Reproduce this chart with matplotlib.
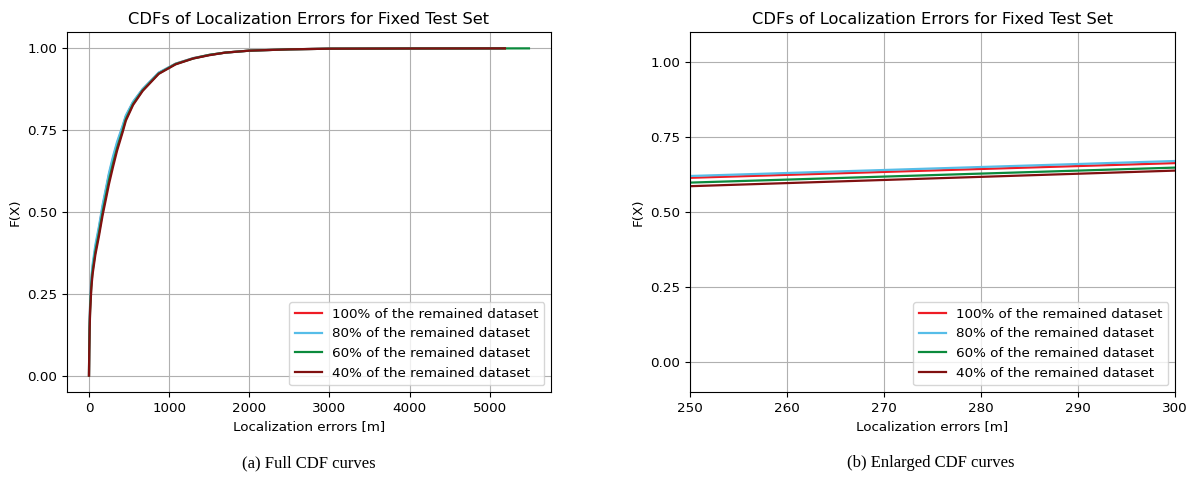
import matplotlib
matplotlib.use("Agg")
import matplotlib.pyplot as plt

# labels and colours of the four curves
labels = ['100% of the remained dataset', '80% of the remained dataset',
          '60% of the remained dataset', '40% of the remained dataset']
colors = ['#ee1c25', '#56bde8', '#0b8a3c', '#801010']

x_100 = [0, 3, 8, 15, 30, 45, 80, 125, 170, 250, 300, 350, 420, 460, 550, 670, 870, 1080, 1300, 1500, 1700, 2000, 2500, 3000, 4000, 5190]
F_100 = [0, 0.08, 0.16, 0.22, 0.29, 0.33, 0.39, 0.45, 0.515, 0.614, 0.663, 0.708, 0.76, 0.792, 0.835, 0.875, 0.925, 0.953, 0.970, 0.980, 0.987, 0.993, 0.997, 0.999, 0.9996, 1.0]

x_80 = [0, 3, 8, 15, 30, 45, 80, 125, 170, 250, 300, 350, 420, 460, 550, 670, 870, 1080, 1300, 1500, 1700, 2000, 2500, 3000, 4000, 5150]
F_80 = [0, 0.09, 0.17, 0.23, 0.30, 0.34, 0.40, 0.457, 0.522, 0.620, 0.670, 0.714, 0.764, 0.795, 0.837, 0.876, 0.926, 0.953, 0.970, 0.980, 0.987, 0.993, 0.997, 0.999, 0.9996, 1.0]

x_60 = [0, 3, 8, 15, 30, 45, 80, 125, 170, 250, 300, 350, 420, 460, 550, 670, 870, 1080, 1300, 1500, 1700, 2000, 2500, 3000, 4000, 5490]
F_60 = [0, 0.08, 0.15, 0.21, 0.28, 0.32, 0.38, 0.437, 0.500, 0.598, 0.648, 0.695, 0.750, 0.784, 0.830, 0.872, 0.923, 0.952, 0.969, 0.980, 0.987, 0.993, 0.997, 0.999, 0.9996, 1.0]

x_40 = [0, 3, 8, 15, 30, 45, 80, 125, 170, 250, 300, 350, 420, 460, 550, 670, 870, 1080, 1300, 1500, 1700, 2000, 2500, 3000, 4000, 5190]
F_40 = [0, 0.07, 0.14, 0.20, 0.27, 0.31, 0.37, 0.427, 0.490, 0.586, 0.638, 0.687, 0.744, 0.779, 0.827, 0.870, 0.922, 0.951, 0.969, 0.979, 0.987, 0.993, 0.997, 0.999, 0.9996, 1.0]

xs = [x_100, x_80, x_60, x_40]
Fs = [F_100, F_80, F_60, F_40]

yticks = [0.0, 0.25, 0.5, 0.75, 1.0]

fig = plt.figure(figsize=(11.92, 4.79), dpi=100)
ax1 = fig.add_axes([0.0562, 0.1816, 0.406, 0.7516])
ax2 = fig.add_axes([0.5789, 0.1816, 0.4068, 0.7516])

for ax in (ax1, ax2):
    for x, F, c, lab in zip(xs, Fs, colors, labels):
        ax.plot(x, F, color=c, label=lab, linewidth=1.6)
    ax.grid(True)
    ax.set_yticks(yticks)
    ax.tick_params(labelsize=9.7)
    ax.set_xlabel('Localization errors [m]', fontsize=9.7)
    ax.set_ylabel('F(X)', fontsize=9.7)
    ax.set_title('CDFs of Localization Errors for Fixed Test Set', fontsize=11.7)
    ax.legend(loc='lower right', fontsize=9.7)

ax1.set_xticks([0, 1000, 2000, 3000, 4000, 5000])

ax2.set_xlim(250, 300)
ax2.set_ylim(-0.1, 1.1)

fig.text(0.259, 0.033, '(a) Full CDF curves', ha='center', va='center',
         family='Liberation Serif', fontsize=12)
fig.text(0.781, 0.033, '(b) Enlarged CDF curves', ha='center', va='center',
         family='Liberation Serif', fontsize=12)

plt.savefig('out.png', dpi=100)
